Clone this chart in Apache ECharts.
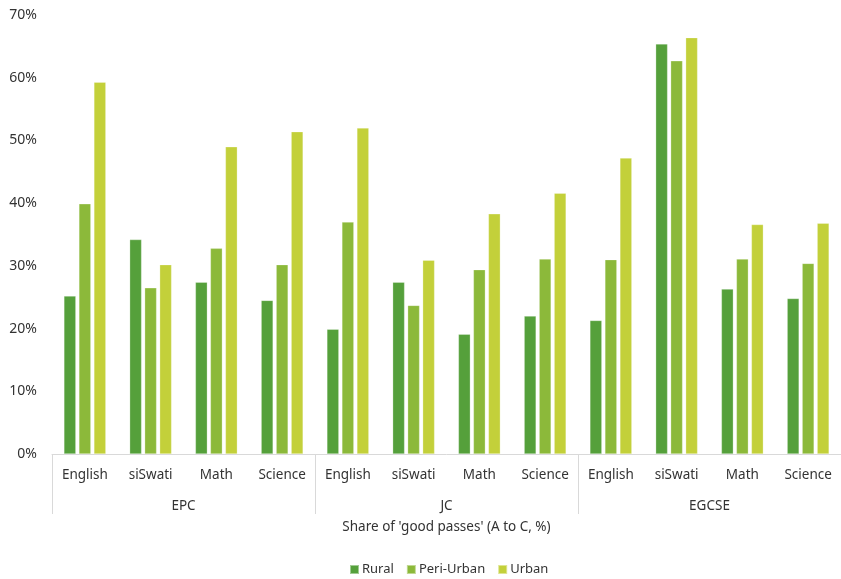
<!DOCTYPE html>
<html>
<head>
<meta charset="utf-8">
<script src="https://cdn.jsdelivr.net/npm/echarts@6/dist/echarts.min.js"></script>
<style>
  html, body { margin: 0; padding: 0; background: #ffffff; }
  #chart { width: 841px; height: 579px; }
</style>
</head>
<body>
<div id="chart"></div>
<script>
// Subjects within each exam level, and the exam levels themselves
const subjects = ['English', 'siSwati', 'Math', 'Science',
                  'English', 'siSwati', 'Math', 'Science',
                  'English', 'siSwati', 'Math', 'Science'];
const examLevels = ['EPC', 'JC', 'EGCSE'];

// Share of 'good passes' (A to C), in percent
const rural     = [25.2, 34.2, 27.4, 24.5, 19.9, 27.4, 19.1, 22.0, 21.3, 65.4, 26.3, 24.8];
const periUrban = [39.9, 26.5, 32.8, 30.2, 37.0, 23.7, 29.4, 31.1, 31.0, 62.7, 31.1, 30.4];
const urban     = [59.3, 30.2, 49.0, 51.4, 52.0, 30.9, 38.3, 41.6, 47.2, 66.4, 36.6, 36.8];

const seriesNames = ['Rural', 'Peri-Urban', 'Urban'];
const colors = ['#55a03b', '#8cb93a', '#c3d03a'];

const FONT = "'Noto Sans', sans-serif";
const TEXT = '#333333';
const AXIS = '#d9d9d9';
const FS = 13.5;

const chart = echarts.init(document.getElementById('chart'), null, { renderer: 'canvas' });

const values = [rural, periUrban, urban];

chart.setOption({
  animation: false,
  color: colors,
  textStyle: { fontFamily: FONT, color: TEXT },
  grid: { left: 52, top: 15, width: 793, bottom: 125, containLabel: false },
  legend: {
    data: seriesNames,
    top: 558,
    left: 344,
    icon: 'rect',
    itemWidth: 9,
    itemHeight: 9,
    itemGap: 12,
    textStyle: { fontFamily: FONT, fontSize: 13, color: TEXT, padding: [0, 0, 0, -2] }
  },
  xAxis: [
    {
      type: 'category',
      data: subjects,
      position: 'bottom',
      axisLine: { show: true, lineStyle: { color: AXIS, width: 1 } },
      axisTick: { show: false },
      axisLabel: { margin: 14, fontFamily: FONT, fontSize: FS, color: TEXT, interval: 0 }
    },
    {
      type: 'category',
      data: examLevels,
      position: 'bottom',
      axisLine: { show: false },
      axisTick: { show: true, length: 60, lineStyle: { color: AXIS, width: 1 } },
      axisLabel: { margin: 45, fontFamily: FONT, fontSize: FS, color: TEXT },
      name: "Share of 'good passes' (A to C, %)",
      nameLocation: 'middle',
      nameGap: 66,
      nameTextStyle: { fontFamily: FONT, fontSize: FS, color: TEXT }
    }
  ],
  yAxis: {
    type: 'value',
    min: 0,
    max: 70,
    interval: 10,
    axisLine: { show: false },
    axisTick: { show: false },
    splitLine: { show: false },
    axisLabel: { formatter: '{value}%', margin: 15, fontFamily: FONT, fontSize: 14, color: TEXT }
  },
  series: seriesNames.map((name, i) => ({
    name: name,
    type: 'bar',
    xAxisIndex: 0,
    data: values[i],
    barWidth: 12,
    barGap: '25%',
    itemStyle: { color: colors[i], borderColor: 'rgba(255,255,255,0.45)', borderWidth: 0.6 }
  }))
});
</script>
</body>
</html>
